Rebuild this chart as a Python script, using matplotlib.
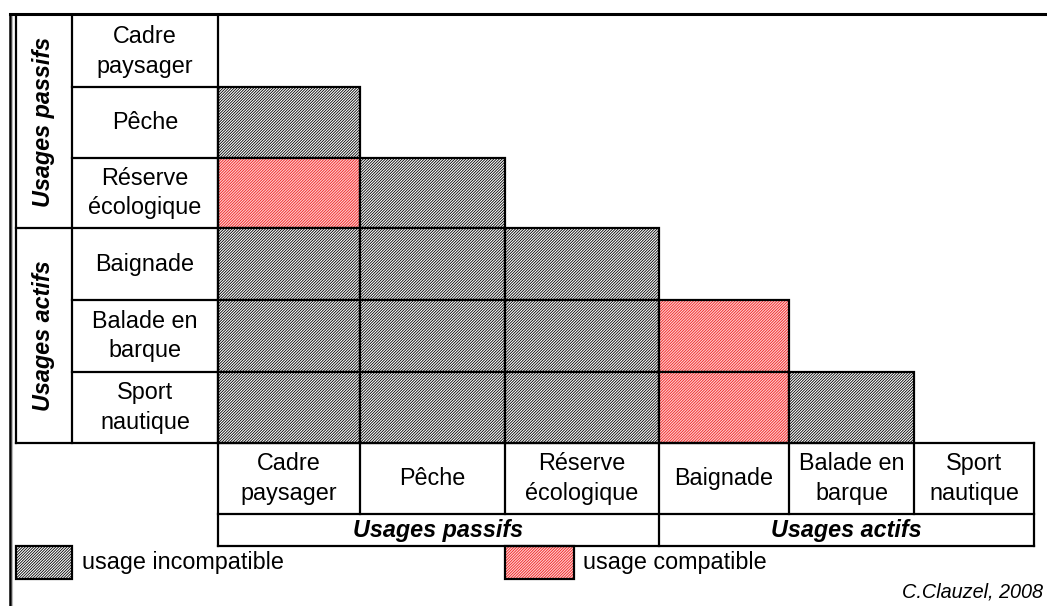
import matplotlib.pyplot as plt
from matplotlib.patches import Rectangle

# ===== DATA =====
usages = ["Cadre\npaysager", "Pêche", "Réserve\nécologique",
          "Baignade", "Balade en\nbarque", "Sport\nnautique"]
groups = ["Usages passifs", "Usages actifs"]
group_size = [3, 3]
# lower triangle of the matrix: I = incompatible, C = compatible
matrix = [
    [],
    ["I"],
    ["C", "I"],
    ["I", "I", "I"],
    ["I", "I", "I", "C"],
    ["I", "I", "I", "C", "I"],
]
legend_labels = {"I": "usage incompatible", "C": "usage compatible"}
credit = "C.Clauzel, 2008"

# ===== LAYOUT (pixels) =====
col_x = [218, 360, 505, 659, 789, 914, 1034]
row_y = [16, 87, 158, 228, 300, 372, 443]
grp_x0, lab_x0 = 16, 72
head_y = [443, 514, 546]
styles = {"I": dict(face="white", hatch="black"),
          "C": dict(face="#ffd2d2", hatch="#f02020")}

plt.rcParams["font.family"] = ["Liberation Sans", "DejaVu Sans"]
plt.rcParams["hatch.linewidth"] = 0.6
FS = 16.8
LW = 1.6

fig = plt.figure(figsize=(10.47, 6.06), dpi=100)
ax = fig.add_axes([0, 0, 1, 1])
ax.set_xlim(0, 1047)
ax.set_ylim(606, 0)
ax.axis("off")


def line(x, y):
    ax.plot(x, y, color="black", lw=LW, solid_capstyle="projecting")


def cell(x0, y0, x1, y1, kind):
    st = styles[kind]
    ax.add_patch(Rectangle((x0, y0), x1 - x0, y1 - y0, facecolor=st["face"],
                           edgecolor=st["hatch"], hatch="/" * 12, lw=0))
    ax.add_patch(Rectangle((x0, y0), x1 - x0, y1 - y0, fill=False,
                           edgecolor="black", lw=LW))


# outer frame
ax.plot([10, 10], [14, 606], color="black", lw=1.8)
ax.plot([12, 12], [14, 606], color="#bbbbbb", lw=0.8)
ax.plot([10, 1047], [14, 14], color="black", lw=2.2)

# matrix cells
for i, row in enumerate(matrix):
    for j, kind in enumerate(row):
        cell(col_x[j], row_y[i], col_x[j + 1], row_y[i + 1], kind)

# row labels table
line([grp_x0, grp_x0], [row_y[0], row_y[-1]])
line([lab_x0, lab_x0], [row_y[0], row_y[-1]])
line([col_x[0], col_x[0]], [row_y[0], row_y[-1]])
line([grp_x0, col_x[0]], [row_y[-1], row_y[-1]])
for k in range(1, len(row_y) - 1):
    x_start = grp_x0 if k == group_size[0] else lab_x0
    line([x_start, col_x[0]], [row_y[k], row_y[k]])
for i, name in enumerate(usages):
    ax.text((lab_x0 + col_x[0]) / 2, (row_y[i] + row_y[i + 1]) / 2, name,
            ha="center", va="center", fontsize=FS, linespacing=1.35)

start = 0
for g, n in zip(groups, group_size):
    ax.text((grp_x0 + lab_x0) / 2, (row_y[start] + row_y[start + n]) / 2, g,
            rotation=90, ha="center", va="center", fontsize=FS,
            fontweight="bold", fontstyle="italic")
    start += n

# column header table
line([col_x[0], col_x[-1]], [head_y[0], head_y[0]])
line([col_x[0], col_x[-1]], [head_y[1], head_y[1]])
line([col_x[0], col_x[-1]], [head_y[2], head_y[2]])
for k, x in enumerate(col_x):
    y_end = head_y[2] if k in (0, group_size[0], len(col_x) - 1) else head_y[1]
    line([x, x], [head_y[0], y_end])
for j, name in enumerate(usages):
    ax.text((col_x[j] + col_x[j + 1]) / 2, (head_y[0] + head_y[1]) / 2, name,
            ha="center", va="center", fontsize=FS, linespacing=1.35)
start = 0
for g, n in zip(groups, group_size):
    ax.text((col_x[start] + col_x[start + n]) / 2, (head_y[1] + head_y[2]) / 2 + 1, g,
            ha="center", va="center", fontsize=FS,
            fontweight="bold", fontstyle="italic")
    start += n

# legend
for (kind, label), (sx0, tx) in zip(legend_labels.items(), [(16, 82), (505, 583)]):
    sw = 56 if kind == "I" else 69
    cell(sx0, 546, sx0 + sw, 579, kind)
    ax.text(tx, 562, label, ha="left", va="center", fontsize=FS)

ax.text(902, 592, credit, ha="left", va="center", fontsize=14.3,
        fontstyle="italic", clip_on=False)

plt.savefig("out.png", dpi=100)
